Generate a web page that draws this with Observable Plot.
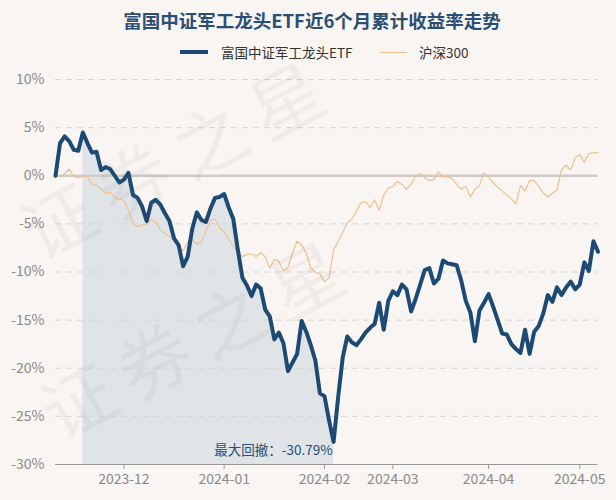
<!DOCTYPE html>
<html><head><meta charset="utf-8">
<script src="https://cdn.jsdelivr.net/npm/d3@7"></script>
<script src="https://cdn.jsdelivr.net/npm/@observablehq/plot@0.6"></script>
<style>
html,body{margin:0;padding:0;background:#f8f5f2;}
body{font-family:"Noto Sans CJK SC","Noto Sans",sans-serif;}
#wrap{position:relative;width:616px;height:500px;overflow:hidden;background:#f8f5f2;}
#head{height:65px;position:relative;}
#title{position:absolute;left:4px;width:616px;top:7px;text-align:center;white-space:nowrap;font-size:18.5px;font-weight:bold;color:#2b4f74;line-height:26px;}
#legend{position:absolute;top:42px;left:0;width:616px;height:20px;font-size:13.5px;color:#333;}
.lg{position:absolute;top:0;line-height:20px;white-space:nowrap;}
.sw{position:absolute;}
.wm{position:absolute;font-size:72px;line-height:80px;color:rgba(120,120,120,0.07);transform:rotate(-28deg);transform-origin:left center;white-space:nowrap;pointer-events:none;letter-spacing:14px;z-index:5;}
#chart{position:relative;}
</style></head>
<body><div id="wrap">
<div id="head">
  <div id="title"></div>
  <div id="legend"></div>
</div>
<div id="chart"></div>
<div class="wm" style="left:25px;top:195px;">证券之星</div>
<div class="wm" style="left:45px;top:375px;">证券之星</div>
</div>
<script>
const titleText = "富国中证军工龙头ETF近6个月累计收益率走势";
const seriesNames = ["富国中证军工龙头ETF", "沪深300"];
const seriesColors = ["#1d4a75", "#f0c08e"];

// cumulative return (%) per trading day, 2023-11-10 .. 2024-05-10
const etf = [
  0, 3.4, 4.1, 3.6, 2.7, 2.6, 4.5, 3.4, 2.4, 2.5,
  0.6, 0.9, 0.7, 0.0, -0.7, -0.4, 0.3, -2.0, -2.3, -3.2,
  -4.7, -2.8, -2.5, -3.0, -3.9, -4.7, -6.5, -7.2, -9.4, -8.4,
  -5.5, -3.8, -4.6, -4.8, -3.4, -2.3, -2.2, -1.9, -3.3, -4.5,
  -7.7, -10.6, -11.4, -12.5, -11.3, -11.7, -13.9, -14.6, -17.0, -16.3,
  -17.4, -20.3, -19.4, -18.5, -15.1, -16.2, -17.6, -19.2, -22.6, -22.9,
  -25.4, -27.65, -23.0, -18.9, -16.7, -17.3, -17.6, -17.0, -16.3, -15.8,
  -15.4, -13.2, -16.0, -13.0, -12.0, -12.4, -11.3, -11.8, -14.1, -12.8,
  -11.3, -9.8, -9.6, -11.2, -10.7, -8.8, -9.1, -9.2, -9.3, -10.9,
  -13.0, -14.2, -17.2, -14.0, -13.2, -12.3, -13.6, -15.0, -16.4, -16.5,
  -17.5, -18.0, -18.4, -16.0, -18.5, -16.2, -15.6, -14.3, -12.4, -13.1,
  -11.6, -12.4, -11.6, -11.0, -11.8, -11.3, -9.0, -9.9, -6.8, -7.9
];
const hs300 = [
  0, -0.1, 0.2, 0.7, -0.1, -0.2, -0.1, -0.1, -0.9, -1.0,
  -1.4, -1.8, -1.7, -2.3, -2.4, -2.6, -3.6, -5.0, -5.3, -5.1,
  -5.0, -4.6, -4.8, -5.6, -6.0, -6.3, -6.8, -7.2, -7.8, -6.9,
  -6.7, -7.1, -6.9, -5.8, -4.6, -4.5, -5.4, -5.8, -6.6, -7.3,
  -8.0, -8.4, -8.2, -8.1, -8.4, -8.0, -8.4, -9.6, -8.7, -8.9,
  -9.9, -9.5, -8.0, -6.8, -7.2, -8.0, -9.6, -10.0, -10.2, -11.0,
  -10.6, -7.7, -6.8, -5.9, -4.9, -4.5, -3.7, -2.8, -2.7, -3.3,
  -2.5, -3.6, -2.0, -1.3, -1.1, -0.6, -0.9, -1.4, -0.9, 0.0,
  0.2, -0.2, -0.5, -0.4, 0.4, -0.1, -0.1, -0.3, -0.9, -1.4,
  -1.1, -2.2, -1.4, -1.0, 0.3, -0.2, -0.7, -1.2, -1.6, -2.0,
  -2.4, -2.9, -1.0, -1.6, -0.5, -0.5, -1.1, -1.8, -2.2, -1.8,
  -1.5, 0.6, 1.1, 0.6, 1.9, 2.2, 1.4, 2.3, 2.4, 2.4
];

const xTickIndex = [15, 37, 59, 74, 95, 115];
const xTickLabels = ["2023-12", "2024-01", "2024-02", "2024-03", "2024-04", "2024-05"];
const yTicks = [10, 5, 0, -5, -10, -15, -20, -25, -30];
const drawdownRange = [6, 61];
const drawdownLabel = ["最大回撤：-30.79%"];

// header
document.getElementById("title").textContent = titleText;
const lg = document.getElementById("legend");
lg.innerHTML =
  `<div class="sw" style="left:180px;top:8px;width:28px;height:4px;background:${seriesColors[0]}"></div>` +
  `<div class="lg" style="left:221px;">${seriesNames[0]}</div>` +
  `<div class="sw" style="left:379px;top:9.5px;width:28px;height:1px;background:${seriesColors[1]}"></div>` +
  `<div class="lg" style="left:419px;">${seriesNames[1]}</div>`;

const etfData = etf.map((v, i) => ({i, v}));
const hsData = hs300.map((v, i) => ({i, v}));
const shade = etfData.filter(d => d.i >= drawdownRange[0] && d.i <= drawdownRange[1]);
const tickMap = new Map(xTickIndex.map((d, k) => [d, xTickLabels[k]]));

const chart = Plot.plot({
  width: 616,
  height: 435,
  marginTop: 14,
  marginBottom: 36,
  marginLeft: 55,
  marginRight: 18.5,
  style: {background: "transparent", fontFamily: "'Noto Sans CJK SC','Noto Sans',sans-serif", fontSize: "14px", overflow: "visible"},
  x: {domain: [0, etf.length - 1]},
  y: {domain: [-30, 10]},
  marks: [
    Plot.ruleY(yTicks.filter(d => d !== 0 && d !== -30), {stroke: "#d6d3d0", strokeWidth: 1, strokeDasharray: "6,5"}),
    Plot.areaY(shade, {x: "i", y1: -30, y2: "v", fill: "#ccd6df", fillOpacity: 0.55, curve: "linear"}),
    Plot.ruleY([0], {stroke: "#cfcbc8", strokeWidth: 2.5}),
    Plot.line(hsData, {x: "i", y: "v", stroke: seriesColors[1], strokeWidth: 1.2, curve: "linear"}),
    Plot.line(etfData, {x: "i", y: "v", stroke: seriesColors[0], strokeWidth: 4, strokeLinejoin: "round", strokeLinecap: "round", curve: "linear"}),
    Plot.ruleY([-30], {stroke: "#9a9a9a", strokeWidth: 1.2}),
    Plot.axisX({ticks: xTickIndex, tickFormat: d => tickMap.get(d), tickSize: 5, tickPadding: 5, stroke: "#9a9a9a", color: "#8a8a8a", fontSize: 14, label: null}),
    Plot.axisY({ticks: yTicks, tickFormat: d => d + "%", tickSize: 0, tickPadding: 11, color: "#8a8a8a", fontSize: 14, label: null}),
    Plot.text(drawdownLabel, {x: () => drawdownRange[1], y: () => -30, text: d => d, textAnchor: "end", dx: -1, dy: -14, fill: "#24507a", fontSize: 13.5})
  ]
});
document.getElementById("chart").appendChild(chart);
</script>
</body></html>
